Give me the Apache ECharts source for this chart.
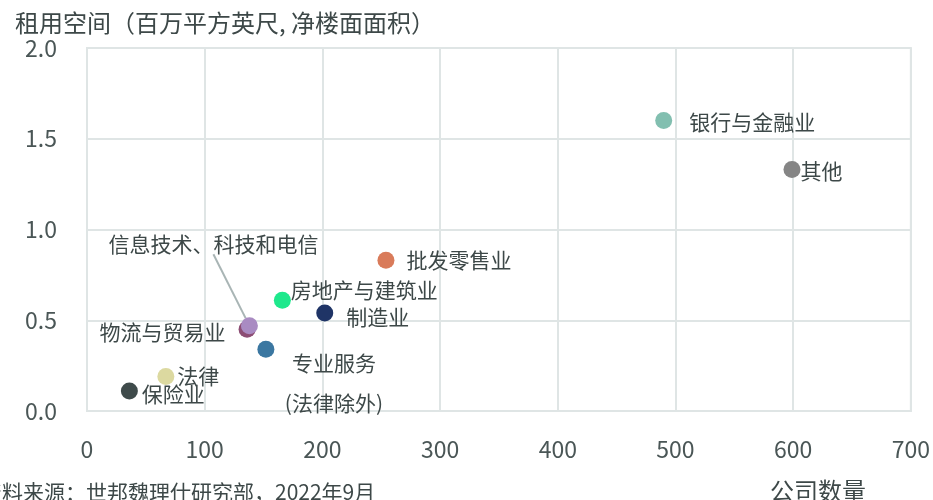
<!DOCTYPE html>
<html><head><meta charset="utf-8">
<script src="https://cdn.jsdelivr.net/npm/echarts@6/dist/echarts.min.js"></script>
<style>html,body{margin:0;padding:0;background:#fff}#c{width:933px;height:500px}</style>
</head><body><div id="c"></div>
<script>
const names = ['银行与金融业','其他','批发零售业','房地产与建筑业','制造业','物流与贸易业','信息技术、科技和电信','专业服务','法律','保险业'];
const companyCounts = [490, 599, 254, 166, 202, 136, 138, 152, 67, 36];
const spaceValues = [1.60, 1.33, 0.83, 0.61, 0.54, 0.45, 0.47, 0.34, 0.19, 0.11];
const xTicks = [0, 100, 200, 300, 400, 500, 600, 700];
const yTicks = [0.0, 0.5, 1.0, 1.5, 2.0];

const colors = ['#82bfb0','#858585','#d97b5a','#1ee88c','#1f3466','#8c4d74','#a98bc2','#3b77a1','#dcd9a0','#3f4b4b'];
const labelCfg = [
  {position:'right', distance:17},
  {position:'right', distance:0},
  {position:'right', distance:12},
  {position:'right', distance:0},
  {position:'right', distance:13},
  {position:'left', distance:13},
  {position:'inside', distance:0},
  {position:'inside', distance:0, lineHeight:40, formatter:'专业服务\n(法律除外)'},
  {position:'right', distance:3},
  {position:'right', distance:4}
];
const moved = {0:{dy:1}, 1:{dy:1}, 3:{dy:-10}, 4:{dy:4}, 5:{dy:3}, 6:{dx:-36, dy:-82}, 7:{dx:68, dy:34}, 9:{dy:3}};
const textColor = '#3d4848';
const gridColor = '#dfe5e5';
const FONT = 'Noto Sans CJK SC';

const data = names.map((n,i)=>{
  const lc = labelCfg[i];
  const item = {
    name:n, value:[companyCounts[i], spaceValues[i]],
    itemStyle:{color:colors[i], opacity:1},
    label:{show:true, position:lc.position, distance:lc.distance,
      color:textColor, fontSize:21, fontFamily:FONT,
      formatter: lc.formatter || n}
  };
  if (lc.lineHeight) { item.label.lineHeight = lc.lineHeight; item.label.align = 'center'; }
  if (i===6) {
    item.labelLine = {show:true, lineStyle:{color:'#a9b5b5', width:2}};
  }
  return item;
});

const chart = echarts.init(document.getElementById('c'));
chart.setOption({
  animation:false,
  textStyle:{fontFamily:FONT},
  grid:{left:87, right:21, top:48, bottom:89, show:true, borderColor:gridColor, borderWidth:2},
  title:[
    {text:'租用空间（百万平方英尺, 净楼面面积）', left:10, top:6, textStyle:{fontSize:24, fontWeight:'normal', color:textColor, fontFamily:FONT}},
    {text:'资料来源：世邦魏理仕研究部，2022年9月', left:-24, top:477, textStyle:{fontSize:21, fontWeight:'normal', color:textColor, fontFamily:FONT}},
    {text:'公司数量', left:765, top:474, textStyle:{fontSize:24, fontWeight:'normal', color:textColor, fontFamily:FONT}}
  ],
  xAxis:{type:'value', min:xTicks[0], max:xTicks[xTicks.length-1], interval:100,
    axisLine:{show:true, lineStyle:{color:gridColor, width:2}}, axisTick:{show:false},
    splitLine:{show:true, lineStyle:{color:gridColor, width:2}},
    axisLabel:{fontSize:23, color:'#4a5656', margin:27, fontFamily:FONT}},
  yAxis:{type:'value', min:yTicks[0], max:yTicks[yTicks.length-1], interval:0.5,
    axisLine:{show:true, lineStyle:{color:gridColor, width:2}}, axisTick:{show:false},
    splitLine:{show:true, lineStyle:{color:gridColor, width:2}},
    axisLabel:{fontSize:23, color:'#4a5656', margin:30, fontFamily:FONT,
      formatter:v=>v.toFixed(1)}},
  series:[{
    type:'scatter', symbolSize:17, data:data,
    labelLayout: function(p){
      return moved[p.dataIndex] || {};
    }
  }]
});
</script></body></html>
